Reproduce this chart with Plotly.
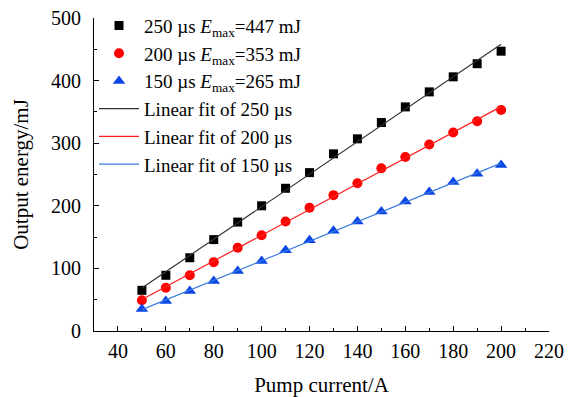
import numpy as np
import plotly.graph_objects as go

# Pump current (A)
current = [50, 60, 70, 80, 90, 100, 110, 120, 130, 140, 150, 160, 170, 180, 190, 200]

# Output energy (mJ) for three pulse widths
e_250 = [65, 89, 117, 146, 174, 200, 228, 253, 283, 307, 333, 358, 382, 406, 427, 447]
e_200 = [49, 69, 89, 110, 133, 153, 175, 197, 217, 236, 260, 278, 298, 317, 335, 353]
e_150 = [35, 48, 64, 80, 96, 112, 129, 145, 160, 175, 191, 207, 222, 238, 251, 265]

labels_pts = ["250 µs <i>E</i><sub>max</sub>=447 mJ",
              "200 µs <i>E</i><sub>max</sub>=353 mJ",
              "150 µs <i>E</i><sub>max</sub>=265 mJ"]
labels_fit = ["Linear fit of 250 µs", "Linear fit of 200 µs", "Linear fit of 150 µs"]

x_ticks = list(range(40, 221, 20))
y_ticks = list(range(0, 501, 100))

FONT = "Liberation Serif, Times New Roman, serif"

series = [e_250, e_200, e_150]
marker_colors = ["#000000", "#ff0000", "#0a46e6"]
line_colors = ["#333333", "#ff2020", "#3c7be0"]
symbols = ["square", "circle", "triangle-up"]
sizes = [9, 10, 11]

fig = go.Figure()

for ys, lab, col, sym, sz in zip(series, labels_pts, marker_colors, symbols, sizes):
    fig.add_trace(go.Scatter(x=current, y=ys, mode="markers", name=lab,
                             marker=dict(symbol=sym, size=sz, color=col)))

xs = np.array(current, dtype=float)
for ys, lab, col in zip(series, labels_fit, line_colors):
    k, b = np.polyfit(xs, np.array(ys, dtype=float), 1)
    fx = [xs.min(), xs.max()]
    fig.add_trace(go.Scatter(x=fx, y=[k * v + b for v in fx], mode="lines", name=lab,
                             line=dict(color=col, width=1.2)))

fig.update_layout(
    width=582, height=397,
    margin=dict(l=94, r=33, t=18, b=66, autoexpand=False),
    paper_bgcolor="white", plot_bgcolor="white",
    font=dict(family=FONT, size=20, color="black"),
    showlegend=True,
    legend=dict(x=0.0, y=1.036, xanchor="left", yanchor="top",
                font=dict(family=FONT, size=19, color="black"),
                bgcolor="rgba(0,0,0,0)", tracegroupgap=0, itemwidth=40),
    xaxis=dict(range=[30, 220], tickvals=x_ticks, ticks="inside", ticklen=5,
               tickcolor="black", tickwidth=1, showline=True, linecolor="black",
               linewidth=1, showgrid=False, zeroline=False, ticklabelstandoff=2,
               automargin=False,
               minor=dict(dtick=10, tick0=30, ticks="inside", ticklen=3, tickcolor="black"),
               title=dict(text="Pump current/A", font=dict(family=FONT, size=21), standoff=21),
               tickfont=dict(family=FONT, size=20)),
    yaxis=dict(range=[0, 500], tickvals=y_ticks, ticks="inside", ticklen=5,
               tickcolor="black", tickwidth=1, showline=True, linecolor="black",
               linewidth=1, showgrid=False, zeroline=False, ticklabelstandoff=8,
               automargin=False,
               minor=dict(dtick=50, ticks="inside", ticklen=3, tickcolor="black"),
               title=dict(text="Output energy/mJ", font=dict(family=FONT, size=21), standoff=16),
               tickfont=dict(family=FONT, size=20)),
)

fig.write_html("out.html")
